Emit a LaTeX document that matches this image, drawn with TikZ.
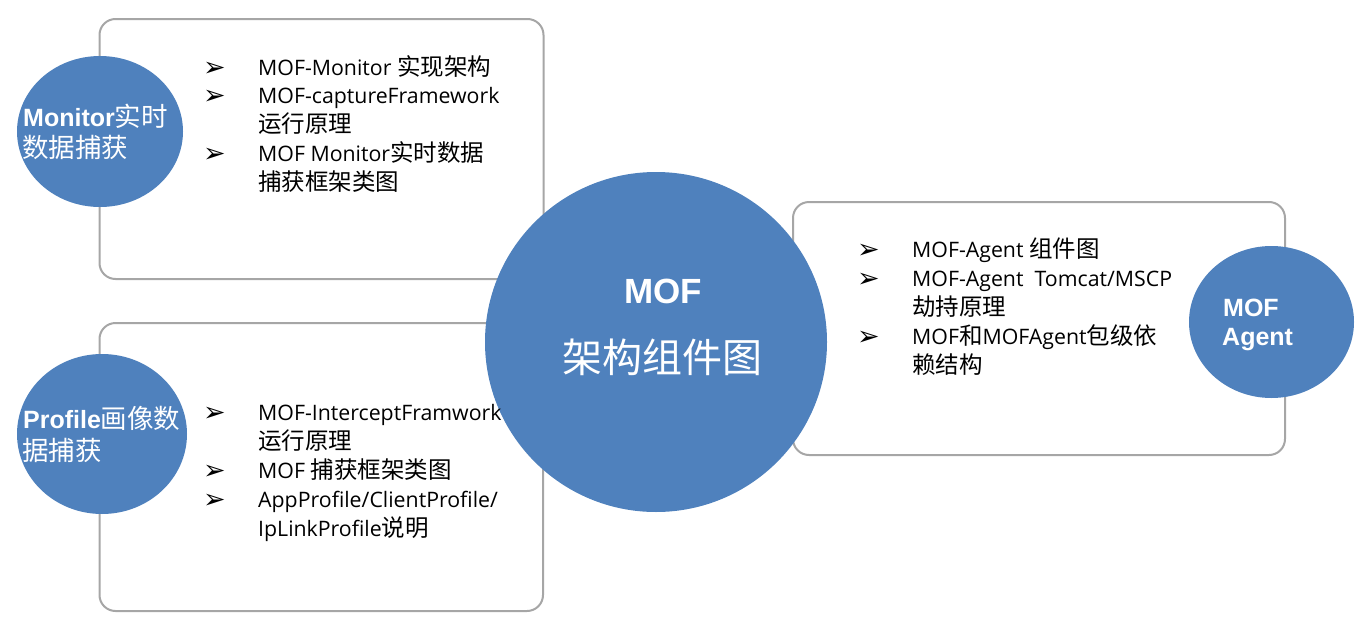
\documentclass[tikz,border=0pt]{standalone}
\usepackage{fontspec}
\usetikzlibrary{shapes.geometric}
\setmainfont{Open Sans}
\newfontfamily\cjk{Noto Sans CJK SC}
\newfontfamily\arb{Liberation Sans}
\newfontfamily\symf{DejaVu Sans}
\newcommand{\cj}[1]{{\cjk\fontsize{23.5}{26}\selectfont #1}}
\newcommand{\cjc}[1]{{\cjk\mdseries\fontsize{26.5}{30}\selectfont #1}}
\definecolor{mofblue}{HTML}{4F81BD}
\definecolor{boxgray}{HTML}{A6A6A6}
\tikzset{
  boxst/.style={draw=boxgray, line width=2pt, rounded corners=16pt, fill=white},
  ell/.style={ellipse, fill=mofblue, draw=none, inner sep=0pt},
  txt/.style={anchor=base west, inner sep=0pt, text=black, font=\fontsize{21.3}{25}\selectfont},
  bul/.style={anchor=base west, inner sep=0pt, text=black, font=\symf\bfseries\fontsize{27}{30}\selectfont},
  clab/.style={anchor=base west, inner sep=0pt, text=white, font=\arb\bfseries\fontsize{25}{28}\selectfont}
}
\begin{document}
\begin{tikzpicture}[x=1pt,y=-1pt]
\useasboundingbox (0,0) rectangle (1369,632);
% boxes
\draw[boxst] (99.5,19) rectangle (543.5,279);
\draw[boxst] (99.5,323) rectangle (543,611);
\draw[boxst] (793,202) rectangle (1285,455);
% circles
\node[ell, minimum width=342pt, minimum height=340pt] (center) at (656,342) {};
\node[ell, minimum width=166pt, minimum height=151pt] (mon) at (100,131.5) {};
\node[ell, minimum width=170pt, minimum height=160pt] (prof) at (102,434) {};
\node[ell, minimum width=165pt, minimum height=152pt] (agent) at (1271.5,322) {};
% center labels
\node[anchor=base, inner sep=0pt, text=white, font=\arb\bfseries\fontsize{35}{40}\selectfont] (cmof) at (663,303) {MOF};
\node[anchor=base, inner sep=0pt, text=white, font=\cjk\fontsize{40}{44}\selectfont] (carch) at (662,372) {架构组件图};
% circle labels
\node[clab] (mon1) at (23,126) {Monitor\cjc{实时}};
\node[clab] (mon2) at (22,157) {\cjc{数据捕获}};
\node[clab] (prof1) at (23,428) {Profile\cjc{画像数}};
\node[clab] (prof2) at (22,460) {\cjc{据捕获}};
\node[clab] (ag1) at (1223,316) {MOF};
\node[clab] (ag2) at (1222,345) {Agent};
% top box list
\node[bul] (b11) at (203,76) {➢};
\node[bul] (b12) at (203,104) {➢};
\node[bul] (b13) at (203,162) {➢};
\node[txt] (t11) at (258,75) {MOF-Monitor \cj{实现架构}};
\node[txt] (t12) at (258,103) {MOF-captureFramework};
\node[txt] (t12b) at (258,132) {\cj{运行原理}};
\node[txt] (t13) at (258,161) {MOF Monitor\cj{实时数据}};
\node[txt] (t13b) at (258,190) {\cj{捕获框架类图}};
% bottom box list
\node[bul] (b21) at (203,421) {➢};
\node[bul] (b22) at (203,479) {➢};
\node[bul] (b23) at (203,508) {➢};
\node[txt] (t21) at (258,420) {MOF-InterceptFramwork};
\node[txt] (t21b) at (258,449) {\cj{运行原理}};
\node[txt] (t22) at (258,478) {MOF \cj{捕获框架类图}};
\node[txt] (t23) at (258,507) {AppProfile/ClientProfile/};
\node[txt] (t23b) at (258,536) {IpLinkProfile\cj{说明}};
% right box list
\node[bul] (b31) at (857,258) {➢};
\node[bul] (b32) at (857,287) {➢};
\node[bul] (b33) at (857,345) {➢};
\node[txt] (t31) at (912,257) {MOF-Agent \cj{组件图}};
\node[txt] (t32) at (912,286) {MOF-Agent\ \ Tomcat/MSCP};
\node[txt] (t32b) at (912,315) {\cj{劫持原理}};
\node[txt] (t33) at (912,344) {MOF\cj{和}MOFAgent\cj{包级依}};
\node[txt] (t33b) at (912,373) {\cj{赖结构}};
\end{tikzpicture}
\end{document}
